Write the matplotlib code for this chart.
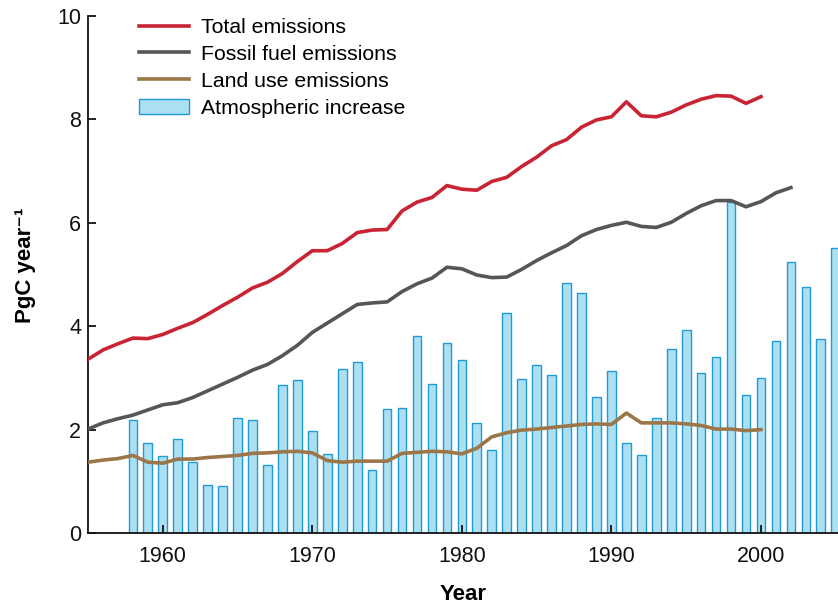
import matplotlib
matplotlib.use("Agg")
import matplotlib.pyplot as plt
from matplotlib.patches import Patch
from matplotlib.lines import Line2D

plt.rcParams['font.family'] = ['Liberation Sans', 'DejaVu Sans']

line_years = list(range(1955, 2001))
total = [3.36, 3.54, 3.66, 3.77, 3.76, 3.84, 3.96, 4.07, 4.23, 4.40,
         4.56, 4.74, 4.85, 5.02, 5.25, 5.46, 5.46, 5.60, 5.81, 5.86,
         5.87, 6.23, 6.40, 6.49, 6.72, 6.65, 6.63, 6.80, 6.88, 7.09,
         7.27, 7.49, 7.61, 7.85, 7.99, 8.05, 8.34, 8.07, 8.05, 8.14,
         8.28, 8.39, 8.46, 8.45, 8.31, 8.44]

fossil_years = list(range(1955, 2003))
fossil = [2.01, 2.13, 2.21, 2.28, 2.38, 2.48, 2.52, 2.62, 2.75, 2.88,
          3.01, 3.15, 3.26, 3.43, 3.63, 3.88, 4.06, 4.24, 4.42, 4.45,
          4.47, 4.67, 4.82, 4.93, 5.14, 5.11, 4.99, 4.94, 4.95, 5.10,
          5.27, 5.42, 5.56, 5.75, 5.87, 5.95, 6.01, 5.93, 5.91, 6.01,
          6.18, 6.33, 6.43, 6.43, 6.31, 6.41, 6.58, 6.68]

land = [1.37, 1.41, 1.44, 1.50, 1.37, 1.35, 1.43, 1.43, 1.46, 1.48,
        1.50, 1.54, 1.55, 1.57, 1.58, 1.55, 1.40, 1.37, 1.39, 1.39,
        1.39, 1.54, 1.56, 1.58, 1.57, 1.53, 1.64, 1.86, 1.94, 1.99,
        2.01, 2.04, 2.07, 2.10, 2.11, 2.10, 2.32, 2.13, 2.13, 2.13,
        2.11, 2.08, 2.01, 2.01, 1.98, 2.00]

bar_years = list(range(1958, 2006))
atmos = [2.18, 1.75, 1.48, 1.82, 1.37, 0.93, 0.91, 2.23, 2.19, 1.31,
         2.86, 2.96, 1.97, 1.53, 3.18, 3.31, 1.22, 2.39, 2.41, 3.82,
         2.89, 3.67, 3.35, 2.12, 1.61, 4.25, 2.97, 3.24, 3.05, 4.84,
         4.64, 2.64, 3.13, 1.75, 1.50, 2.23, 3.55, 3.92, 3.10, 3.40,
         6.41, 2.67, 3.00, 3.71, 5.25, 4.76, 3.76, 5.51]

x_ticks = [1960, 1970, 1980, 1990, 2000]
y_ticks = [0, 2, 4, 6, 8, 10]

c_total = '#c92433'
c_fossil = '#565656'
c_land = '#9c7649'
c_bar = '#acdff2'
c_edge = '#1f9bd6'

fig = plt.figure(figsize=(8.38, 6.04), dpi=100)
ax = fig.add_axes([88 / 838, 1 - 533 / 604, 1 - 88 / 838, (533 - 16) / 604])

ax.bar(bar_years, atmos, width=0.58, color=c_bar, edgecolor=c_edge,
       linewidth=1.0, zorder=1)
ax.plot(line_years, total, color=c_total, lw=2.6, zorder=3,
        solid_joinstyle='round')
ax.plot(fossil_years, fossil, color=c_fossil, lw=2.6, zorder=3,
        solid_joinstyle='round')
ax.plot(line_years, land, color=c_land, lw=2.6, zorder=3,
        solid_joinstyle='round')

ax.set_xlim(1955, 2005.15)
ax.set_ylim(0, 10)
ax.set_xticks(x_ticks)
ax.set_yticks(y_ticks)
ax.set_xticklabels([str(t) for t in x_ticks])
ax.set_yticklabels([str(t) for t in y_ticks])
ax.tick_params(axis='both', direction='in', length=6, width=1.3,
               labelsize=15.5, colors='#111111')
ax.tick_params(axis='x', pad=9)
ax.tick_params(axis='y', pad=5)
for s in ['top', 'right']:
    ax.spines[s].set_visible(False)
for s in ['left', 'bottom']:
    ax.spines[s].set_linewidth(1.3)
    ax.spines[s].set_color('#111111')

ax.set_xlabel('Year', fontsize=16, fontweight='bold', labelpad=12.5)
ax.set_ylabel('PgC year\u207b\u00b9', fontsize=16, fontweight='bold')
ax.yaxis.set_label_coords(-0.070, 0.517)

handles = [Line2D([0], [0], color=c_total, lw=2.6),
           Line2D([0], [0], color=c_fossil, lw=2.6),
           Line2D([0], [0], color=c_land, lw=2.6),
           Patch(facecolor=c_bar, edgecolor=c_edge, linewidth=1.0)]
labels = ['Total emissions', 'Fossil fuel emissions', 'Land use emissions',
          'Atmospheric increase']
fig.legend(handles, labels, loc='upper left',
           bbox_to_anchor=(139 / 838, 1 - 18 / 604), frameon=False,
           fontsize=15.3, handlelength=2.35, handleheight=0.75,
           handletextpad=0.55, labelspacing=0.36, borderaxespad=0,
           borderpad=0)

fig.savefig('out.png', dpi=100)
